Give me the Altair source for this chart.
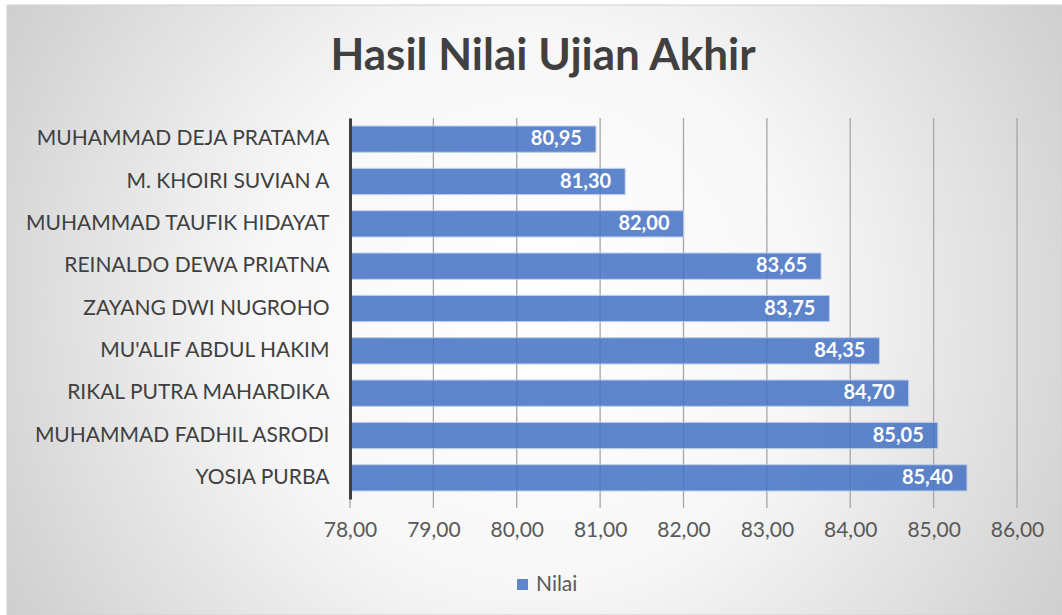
import altair as alt
import pandas as pd

names = [
    "MUHAMMAD DEJA PRATAMA",
    "M. KHOIRI SUVIAN A",
    "MUHAMMAD TAUFIK HIDAYAT",
    "REINALDO DEWA PRIATNA",
    "ZAYANG DWI NUGROHO",
    "MU'ALIF ABDUL HAKIM",
    "RIKAL PUTRA MAHARDIKA",
    "MUHAMMAD FADHIL ASRODI",
    "YOSIA PURBA",
]
scores = [80.95, 81.30, 82.00, 83.65, 83.75, 84.35, 84.70, 85.05, 85.40]
series_name = "Nilai"
tick_values = [78, 79, 80, 81, 82, 83, 84, 85, 86]
axis_min = 78
title_text = "Hasil Nilai Ujian Akhir"

W, H = 667, 381
PAD = {"left": 350, "top": 118, "right": 45, "bottom": 116}
FONT = "Lato"

df = pd.DataFrame({"name": names, "score": scores, "series": [series_name] * len(names)})
ticks_df = pd.DataFrame({"t": tick_values})

xscale = alt.Scale(domain=[78, 86], nice=False, zero=False)
yscale = alt.Scale(paddingInner=0.38, paddingOuter=0.19)

bg = alt.Chart(alt.Data(values=[{"a": 1}])).mark_rect(
    fill=alt.RadialGradient(
        gradient="radial",
        x1=0.5, y1=0.5, r1=0,
        x2=0.5, y2=0.5, r2=0.75,
        stops=[
            alt.GradientStop(offset=0, color="#ffffff"),
            alt.GradientStop(offset=0.35, color="#f7f7f7"),
            alt.GradientStop(offset=1, color="#b8b8b8"),
        ],
    ),
    stroke="#d0d0d0",
    strokeWidth=1,
).encode(
    x=alt.value(7 - PAD["left"]),
    x2=alt.value(W + PAD["right"]),
    y=alt.value(5 - PAD["top"]),
    y2=alt.value(H + PAD["bottom"]),
)

title = alt.Chart(alt.Data(values=[{"a": 1}])).mark_text(
    text=title_text, font=FONT, fontSize=44, fontWeight="bold", color="#404040",
    align="center", baseline="middle",
).encode(x=alt.value(543 - PAD["left"]), y=alt.value(57 - PAD["top"]))

grid = alt.Chart(ticks_df).mark_rule(color="#a6a6a6", strokeWidth=1.3).encode(
    x=alt.X("t:Q", scale=xscale),
    y=alt.value(0),
    y2=alt.value(H + 9),
)

bars = alt.Chart(df).mark_bar(opacity=0.85, stroke="#b4c7e7", strokeWidth=1).encode(
    x=alt.X("score:Q", scale=xscale,
            axis=alt.Axis(values=tick_values, grid=False, domain=False, ticks=False,
                          labelExpr="replace(format(datum.value, '.2f'), '.', ',')",
                          labelFont=FONT, labelFontSize=21, labelColor="#595959",
                          labelPadding=20, labelFlush=False, labelOverlap=False,
                          title=None, zindex=1)),
    x2=alt.datum(axis_min),
    y=alt.Y("name:N", sort=names, scale=yscale,
            axis=alt.Axis(title=None, ticks=False, domain=True, domainColor="#404040",
                          domainWidth=3, labelFont=FONT, labelFontSize=21,
                          labelColor="#404040", labelPadding=21, labelLimit=400, zindex=1)),
    color=alt.Color("series:N", scale=alt.Scale(range=["#4472C4"]),
                    legend=alt.Legend(title=None, orient="none", legendX=158, legendY=452,
                                      symbolType="square", symbolSize=120, symbolOpacity=0.85,
                                      labelFont=FONT, labelFontSize=21, labelColor="#595959",
                                      labelOffset=3, symbolStrokeWidth=0, padding=4)),
)

labels = alt.Chart(df).transform_calculate(
    lab="replace(format(datum.score, '.2f'), '.', ',')"
).mark_text(align="right", baseline="middle", dx=-14, color="white",
            font=FONT, fontSize=20, fontWeight="bold").encode(
    x=alt.X("score:Q", scale=xscale),
    y=alt.Y("name:N", sort=names, scale=yscale),
    text="lab:N",
)

chart = alt.layer(bg, grid, bars, labels, title).properties(
    width=W, height=H,
    autosize=alt.AutoSizeParams(type="none"),
    padding=PAD,
).configure_view(stroke=None)

chart.save("out.html", embed_options={"renderer": "svg", "actions": False})
